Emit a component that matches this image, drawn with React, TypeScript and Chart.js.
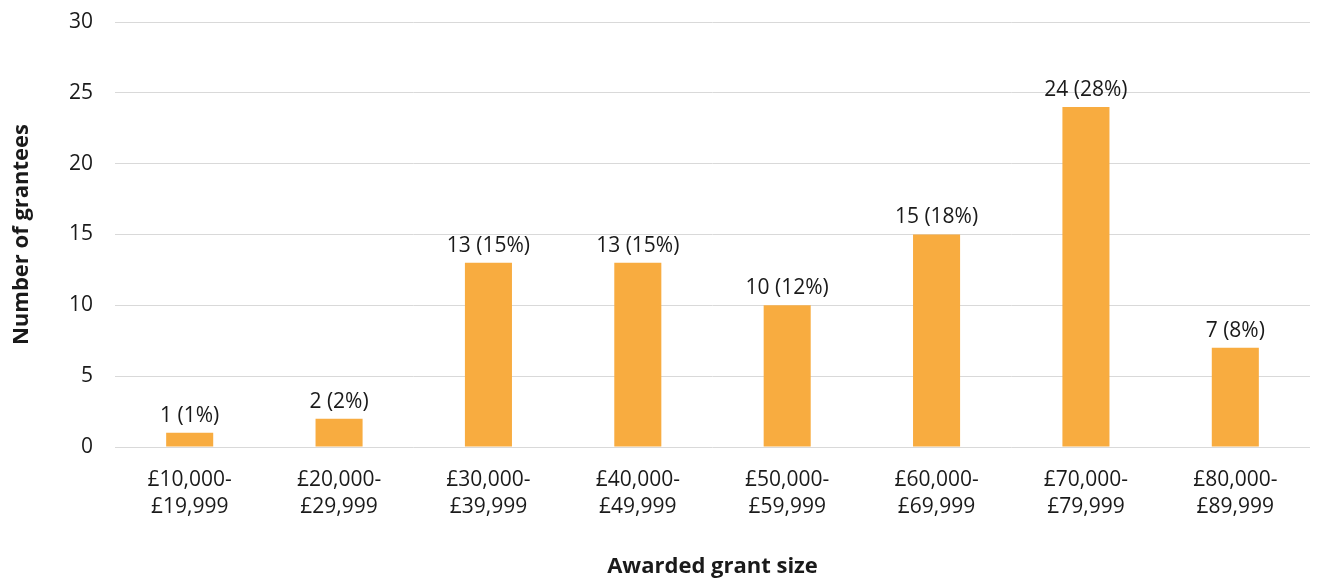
import React, { useEffect, useRef } from "react";
import { Chart, registerables } from "chart.js";

Chart.register(...registerables);

const categories: string[][] = [
  ["£10,000-", "£19,999"],
  ["£20,000-", "£29,999"],
  ["£30,000-", "£39,999"],
  ["£40,000-", "£49,999"],
  ["£50,000-", "£59,999"],
  ["£60,000-", "£69,999"],
  ["£70,000-", "£79,999"],
  ["£80,000-", "£89,999"],
];
const counts: number[] = [1, 2, 13, 13, 10, 15, 24, 7];
const percents: string[] = ["1%", "2%", "15%", "15%", "12%", "18%", "28%", "8%"];

const FONT = "'Open Sans', 'Noto Sans', sans-serif";
const BAR = "#F8AC40";
const TEXT = "#1a1a1a";

const labelPlugin = {
  id: "barLabels",
  afterDatasetsDraw(chart: any) {
    const ctx = chart.ctx;
    const meta = chart.getDatasetMeta(0);
    ctx.save();
    ctx.font = `21px ${FONT}`;
    ctx.fillStyle = TEXT;
    ctx.textAlign = "center";
    ctx.textBaseline = "middle";
    meta.data.forEach((bar: any, i: number) => {
      ctx.fillText(`${counts[i]} (${percents[i]})`, bar.x, bar.y - 17);
    });
    ctx.restore();
  },
};

export default function App() {
  const ref = useRef<HTMLCanvasElement | null>(null);
  useEffect(() => {
    document.body.style.margin = "0";
    const canvas = ref.current!;
    const chart = new Chart(canvas, {
      type: "bar",
      data: {
        labels: categories,
        datasets: [
          {
            data: counts,
            backgroundColor: BAR,
            categoryPercentage: 1,
            barPercentage: 0.315,
          },
        ],
      },
      options: {
        animation: false,
        responsive: false,
        maintainAspectRatio: false,
        layout: { padding: { top: 22, right: 8, left: 0, bottom: 0 } },
        plugins: {
          legend: { display: false },
          tooltip: { enabled: false },
        },
        scales: {
          x: {
            grid: { display: false, drawTicks: false },
            border: { display: false },
            ticks: {
              color: TEXT,
              font: { family: FONT, size: 21, lineHeight: 1.3 },
              padding: 19,
              maxRotation: 0,
              autoSkip: false,
            },
            title: {
              display: true,
              text: "Awarded grant size",
              color: TEXT,
              font: { family: FONT, size: 22, weight: "bold" },
              padding: 3,
            },
            afterFit: (scale: any) => {
              scale.height = 136;
              scale.paddingLeft = 0;
              scale.paddingRight = 0;
            },
          },
          y: {
            min: 0,
            max: 30,
            ticks: {
              stepSize: 5,
              color: TEXT,
              font: { family: FONT, size: 21 },
              padding: 22,
            },
            grid: { color: "#d9d9d9", drawTicks: false, lineWidth: 1 },
            border: { display: false },
            title: {
              display: true,
              text: "Number of grantees",
              color: TEXT,
              font: { family: FONT, size: 22, weight: "bold" },
              padding: 9,
            },
            afterFit: (scale: any) => {
              scale.width = 115;
              scale.paddingTop = 0;
              scale.paddingBottom = 0;
            },
          },
        },
      },
      plugins: [labelPlugin],
    });
    return () => chart.destroy();
  }, []);
  return <canvas ref={ref} width={1318} height={583} style={{ display: "block" }} />;
}
